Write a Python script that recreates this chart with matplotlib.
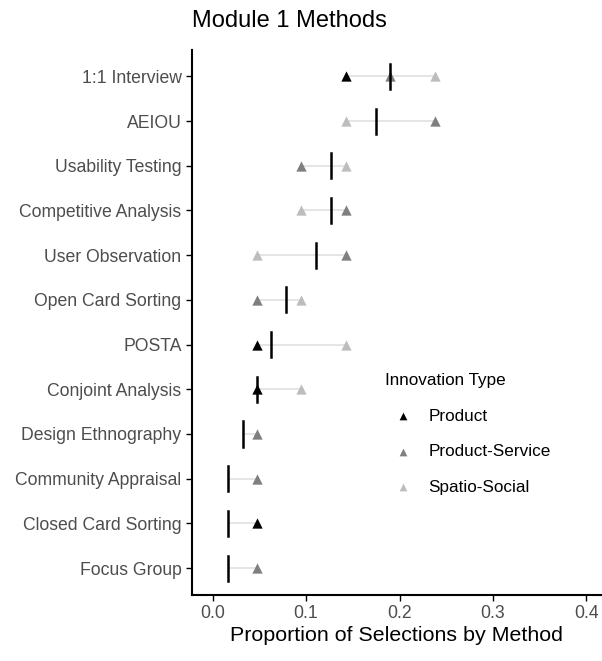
import numpy as np
import matplotlib.pyplot as plt

plt.rcParams['font.family'] = ['Liberation Sans', 'DejaVu Sans']

methods = ['1:1 Interview', 'AEIOU', 'Usability Testing', 'Competitive Analysis',
           'User Observation', 'Open Card Sorting', 'POSTA', 'Conjoint Analysis',
           'Design Ethnography', 'Community Appraisal', 'Closed Card Sorting', 'Focus Group']
# proportion of selections per innovation type (nan = not shown)
product = [0.143, np.nan, np.nan, np.nan, np.nan, np.nan, 0.048, 0.048, np.nan, np.nan, 0.048, np.nan]
prod_service = [0.190, 0.238, 0.095, 0.143, 0.143, 0.048, np.nan, np.nan, 0.048, 0.048, np.nan, 0.048]
spatio_social = [0.238, 0.143, 0.143, 0.095, 0.048, 0.095, 0.143, 0.095, np.nan, np.nan, np.nan, np.nan]
means = [0.190, 0.175, 0.127, 0.127, 0.111, 0.079, 0.063, 0.048, 0.032, 0.016, 0.016, 0.016]

fig, ax = plt.subplots(figsize=(6.02, 6.61), dpi=100)
fig.subplots_adjust(left=0.319, right=0.999, top=0.925, bottom=0.1)

n = len(methods)
y = np.arange(n)[::-1]

# gray range lines
for i in range(n):
    vals = [v for v in (product[i], prod_service[i], spatio_social[i], means[i]) if not np.isnan(v)]
    ax.plot([min(vals), max(vals)], [y[i], y[i]], color='#e0e0e0', lw=1.2, zorder=1)

ax.scatter(product, y, marker='^', s=55, color='black', linewidths=0, label='Product', zorder=3)
ax.scatter(prod_service, y, marker='^', s=55, color='#7f7f7f', linewidths=0, label='Product-Service', zorder=3)
ax.scatter(spatio_social, y, marker='^', s=55, color='#bdbdbd', linewidths=0, label='Spatio-Social', zorder=3)

# mean markers
for i in range(n):
    ax.plot([means[i], means[i]], [y[i] - 0.28, y[i] + 0.28], color='black', lw=1.8, zorder=4)

ax.set_xlim(-0.022, 0.416)
ax.set_ylim(-0.6, n - 0.4)
ax.set_yticks(y)
ax.set_yticklabels(methods)
ax.set_xticks([0.0, 0.1, 0.2, 0.3, 0.4])
ax.set_xticklabels(['0.0', '0.1', '0.2', '0.3', '0.4'])
ax.tick_params(axis='both', labelsize=12.7, labelcolor='#4d4d4d', color='black', length=4, width=1)
for s in ['top', 'right']:
    ax.spines[s].set_visible(False)
for s in ['left', 'bottom']:
    ax.spines[s].set_linewidth(1.5)

ax.set_xlabel('Proportion of Selections by Method', fontsize=15.4, labelpad=3)
ax.set_title('Module 1 Methods', fontsize=17, loc='left', pad=16)

leg = ax.legend(title='Innovation Type', loc='center left', bbox_to_anchor=(0.435, 0.295),
                frameon=False, fontsize=12.3, title_fontsize=12.3, labelspacing=1.2,
                handletextpad=0.5, markerscale=0.75)
leg._legend_box.align = 'left'

fig.savefig('out.png', dpi=100)
